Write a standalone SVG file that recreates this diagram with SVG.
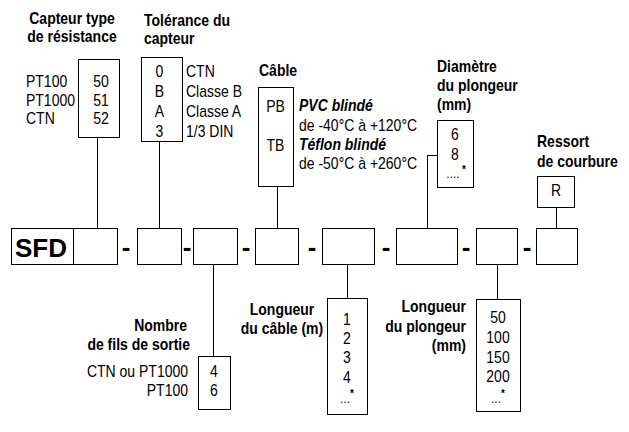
<svg xmlns="http://www.w3.org/2000/svg" width="629" height="432" viewBox="0 0 629 432">
<style>
text{font-family:"Liberation Sans",Arial,sans-serif;font-size:16px;fill:#000}
.b{font-weight:bold}
.bi{font-weight:bold;font-style:italic}
.m{text-anchor:middle}
.e{text-anchor:end}
.box{fill:#fff;stroke:#000;stroke-width:1}
.ln{stroke:#000;stroke-width:1;fill:none}
.big{font-weight:bold;font-size:26px}
.dash{text-anchor:middle}
.st{font-size:10px;font-weight:bold}
.dots{font-size:12px}
</style>
<rect width="629" height="432" fill="#fff"/>
<g id="connectors">
<path class="ln" d="M97.5 137V228M159.5 141V228M277.5 186V228M427.5 155.5H437M427.5 155V228M556.5 207V228"/>
<path class="ln" d="M213.5 264V356M347.5 264V298M497.5 264V299"/>
</g>
<g id="code-row">
<rect class="box" x="11.5" y="228.5" width="106" height="36"/>
<line class="ln" x1="73.5" y1="228.5" x2="73.5" y2="264.5"/>
<text class="big" x="15" y="257">SFD</text>
<rect class="box" x="137.5" y="228.5" width="44" height="36"/>
<rect class="box" x="193.5" y="228.5" width="44" height="36"/>
<rect class="box" x="255.5" y="228.5" width="43" height="36"/>
<rect class="box" x="322.5" y="228.5" width="52" height="36"/>
<rect class="box" x="396.5" y="228.5" width="61" height="36"/>
<rect class="box" x="476.5" y="228.5" width="41" height="36"/>
<rect class="box" x="536.5" y="228.5" width="41" height="36"/>
<text class="big dash" x="126" y="256">-</text>
<text class="big dash" x="187" y="256">-</text>
<text class="big dash" x="246" y="256">-</text>
<text class="big dash" x="312" y="256">-</text>
<text class="big dash" x="386" y="256">-</text>
<text class="big dash" x="466" y="256">-</text>
<text class="big dash" x="527" y="256">-</text>
</g>
<g id="capteur">
<text class="b m" transform="matrix(.875 0 0 1 72 24)">Capteur type</text>
<text class="b m" transform="matrix(.875 0 0 1 72 42)">de résistance</text>
<rect class="box" x="78.5" y="59.5" width="41" height="78"/>
<text transform="matrix(.875 0 0 1 26 87)">PT100</text>
<text transform="matrix(.875 0 0 1 26 106)">PT1000</text>
<text transform="matrix(.875 0 0 1 26 124)">CTN</text>
<text class="m" transform="matrix(.875 0 0 1 101 87)">50</text>
<text class="m" transform="matrix(.875 0 0 1 101 106)">51</text>
<text class="m" transform="matrix(.875 0 0 1 101 124)">52</text>
</g>
<g id="tolerance">
<text class="b" transform="matrix(.875 0 0 1 144 26)">Tolérance du</text>
<text class="b" transform="matrix(.875 0 0 1 144 44)">capteur</text>
<rect class="box" x="141.5" y="57.5" width="41" height="84"/>
<text class="m" transform="matrix(.875 0 0 1 159.5 77)">0</text>
<text class="m" transform="matrix(.875 0 0 1 159.5 97)">B</text>
<text class="m" transform="matrix(.875 0 0 1 159.5 117)">A</text>
<text class="m" transform="matrix(.875 0 0 1 159.5 137)">3</text>
<text transform="matrix(.875 0 0 1 186 77)">CTN</text>
<text transform="matrix(.875 0 0 1 186 97)">Classe B</text>
<text transform="matrix(.875 0 0 1 186 117)">Classe A</text>
<text transform="matrix(.875 0 0 1 186 137)">1/3 DIN</text>
</g>
<g id="cable">
<text class="b" transform="matrix(.875 0 0 1 259 76)">Câble</text>
<rect class="box" x="258.5" y="87.5" width="35" height="99"/>
<text class="m" transform="matrix(.875 0 0 1 275.5 112)">PB</text>
<text class="m" transform="matrix(.875 0 0 1 275.5 151)">TB</text>
<text class="bi" transform="matrix(.875 0 0 1 299 111)">PVC blindé</text>
<text transform="matrix(.875 0 0 1 299 131)">de -40°C à +120°C</text>
<text class="bi" transform="matrix(.875 0 0 1 299 150)">Téflon blindé</text>
<text transform="matrix(.875 0 0 1 299 169)">de -50°C à +260°C</text>
</g>
<g id="diametre">
<text class="b" transform="matrix(.875 0 0 1 437 72)">Diamètre</text>
<text class="b" transform="matrix(.875 0 0 1 437 91)">du plongeur</text>
<text class="b" transform="matrix(.875 0 0 1 437 110)">(mm)</text>
<rect class="box" x="437.5" y="120.5" width="36" height="67"/>
<text class="m" transform="matrix(.875 0 0 1 455 140)">6</text>
<text class="m" transform="matrix(.875 0 0 1 455 160)">8</text>
<text class="m dots" x="453" y="178">....</text>
<text class="st" x="462" y="173">*</text>
</g>
<g id="ressort">
<text class="b" transform="matrix(.875 0 0 1 537 147)">Ressort</text>
<text class="b" transform="matrix(.875 0 0 1 537 167)">de courbure</text>
<rect class="box" x="537.5" y="176.5" width="37" height="31"/>
<text class="m" transform="matrix(.875 0 0 1 556 196)">R</text>
</g>
<g id="fils">
<text class="b e" transform="matrix(.875 0 0 1 187 331)">Nombre</text>
<text class="b e" transform="matrix(.875 0 0 1 190 350)">de fils de sortie</text>
<text class="e" transform="matrix(.875 0 0 1 188 377)">CTN ou PT1000</text>
<text class="e" transform="matrix(.875 0 0 1 188 396)">PT100</text>
<rect class="box" x="198.5" y="356.5" width="32" height="53"/>
<text class="m" transform="matrix(.875 0 0 1 214 377)">4</text>
<text class="m" transform="matrix(.875 0 0 1 214 396)">6</text>
</g>
<g id="longueur-cable">
<text class="b m" transform="matrix(.875 0 0 1 282 315)">Longueur</text>
<text class="b m" transform="matrix(.875 0 0 1 282 334)">du câble (m)</text>
<rect class="box" x="327.5" y="298.5" width="40" height="116"/>
<text class="m" transform="matrix(.875 0 0 1 347 325)">1</text>
<text class="m" transform="matrix(.875 0 0 1 347 344)">2</text>
<text class="m" transform="matrix(.875 0 0 1 347 363)">3</text>
<text class="m" transform="matrix(.875 0 0 1 347 383)">4</text>
<text class="m dots" x="345" y="403">...</text>
<text class="st" x="350" y="397">*</text>
</g>
<g id="longueur-plongeur">
<text class="b e" transform="matrix(.875 0 0 1 466 312)">Longueur</text>
<text class="b e" transform="matrix(.875 0 0 1 466 332)">du plongeur</text>
<text class="b e" transform="matrix(.875 0 0 1 466 351)">(mm)</text>
<rect class="box" x="476.5" y="299.5" width="44" height="112"/>
<text class="m" transform="matrix(.875 0 0 1 498 323)">50</text>
<text class="m" transform="matrix(.875 0 0 1 498 343)">100</text>
<text class="m" transform="matrix(.875 0 0 1 498 363)">150</text>
<text class="m" transform="matrix(.875 0 0 1 498 382)">200</text>
<text class="m dots" x="496" y="403">...</text>
<text class="st" x="501" y="397">*</text>
</g>
</svg>
